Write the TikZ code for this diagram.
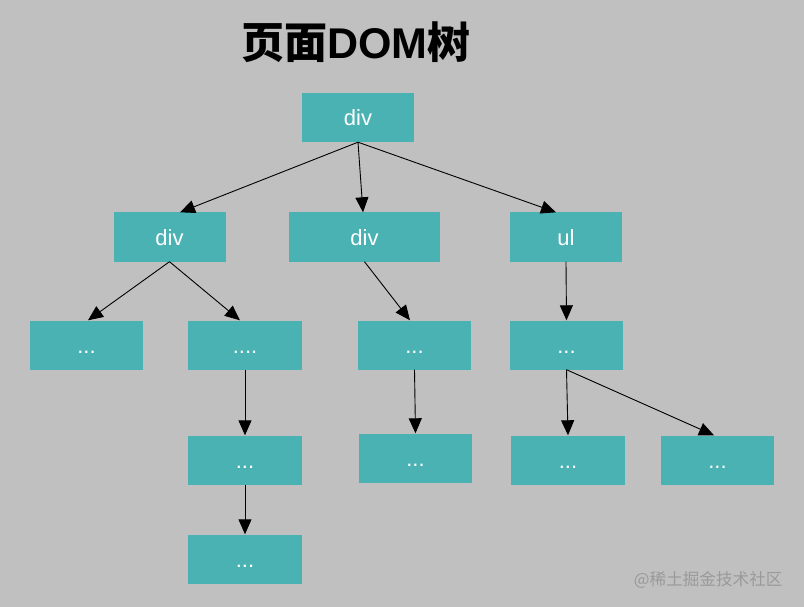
\documentclass[tikz,border=0pt]{standalone}
\usepackage{fontspec}
\setmainfont{Liberation Sans}
\newfontfamily\cjk{Noto Sans CJK SC}
\usetikzlibrary{arrows.meta}
\definecolor{bgc}{HTML}{C0C0C0}
\definecolor{boxc}{HTML}{4BB2B4}
\definecolor{wmc}{HTML}{9A9A9A}
\tikzset{
  box/.style={fill=boxc, minimum width=112pt, minimum height=49pt, inner sep=0pt,
    text=white, text height=16pt, text depth=0pt, font=\fontsize{22}{22}\selectfont},
  conn/.style={line width=0.9pt, -{Triangle[length=15pt,width=13pt]}}
}
\begin{document}
\begin{tikzpicture}[x=1pt,y=-1pt]
\fill[bgc] (0,0) rectangle (804,607);
\useasboundingbox (0,0) rectangle (804,607);
\node[font=\cjk\bfseries\fontsize{43}{43}\selectfont, text=black] (title) at (356,42) {页面{\fontspec{Liberation Sans}\bfseries DOM}树};
\node[box] (top) at (358,117.5) {div};
\node[box] (dL) at (169.5,237) {div};
\node[box, minimum width=151pt] (dM) at (364.5,237) {div};
\node[box] (ul) at (566,237) {ul};
\node[box, minimum width=113pt] (a1) at (86.5,345) {...};
\node[box, minimum width=114pt] (a2) at (245,345) {....};
\node[box, minimum width=113pt] (a3) at (414.5,345) {...};
\node[box, minimum width=113pt] (a4) at (566.5,345) {...};
\node[box, minimum width=114pt] (b2) at (245,460) {...};
\node[box, minimum width=113pt] (b3) at (415.5,458) {...};
\node[box, minimum width=114pt] (b4) at (568,460) {...};
\node[box, minimum width=113pt] (b5) at (717.5,460) {...};
\node[box, minimum width=114pt] (c2) at (245,559) {...};
\node[font=\cjk\fontsize{16.6}{16.6}\selectfont, text=wmc, anchor=east] (wm) at (786,580) {@稀土掘金技术社区};
\draw[conn] (top.south) -- ([xshift=10.5pt]dL.north);
\draw[conn] (top.south) -- ([xshift=-1.5pt]dM.north);
\draw[conn] (top.south) -- ([xshift=-10pt]ul.north);
\draw[conn] (dL.south) -- ([xshift=1.5pt]a1.north);
\draw[conn] (dL.south) -- ([xshift=-5pt]a2.north);
\draw[conn] (dM.south) -- ([xshift=-4.5pt]a3.north);
\draw[conn] (ul.south) -- (a4.north);
\draw[conn] (a2.south) -- (b2.north);
\draw[conn] (b2.south) -- (c2.north);
\draw[conn] (a3.south) -- (b3.north);
\draw[conn] (a4.south) -- (b4.north);
\draw[conn] (a4.south) -- ([xshift=-3.5pt]b5.north);
\end{tikzpicture}
\end{document}
